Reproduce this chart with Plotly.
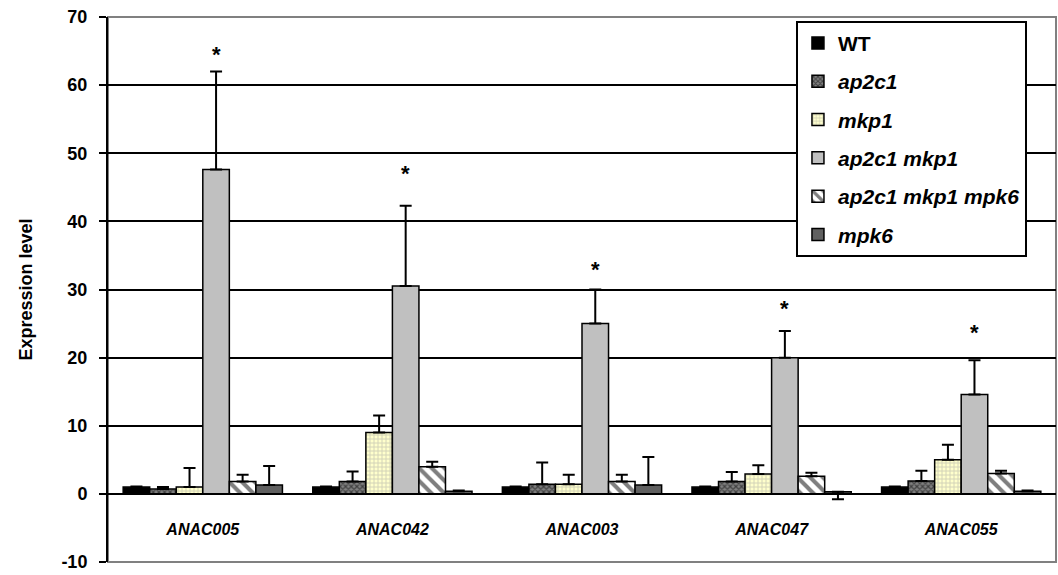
import plotly.graph_objects as go

genes = ["ANAC005", "ANAC042", "ANAC003", "ANAC047", "ANAC055"]
series = ["WT", "ap2c1", "mkp1", "ap2c1 mkp1", "ap2c1 mkp1 mpk6", "mpk6"]
y_ticks = [-10, 0, 10, 20, 30, 40, 50, 60, 70]
y_tick_text = ["-10", "0", "10", "20", "30", "40", "50", "60", "70"]

wt = [1.0, 1.0, 1.0, 1.0, 1.0]
ap2c1 = [0.7, 1.8, 1.4, 1.8, 1.9]
mkp1 = [1.0, 9.0, 1.4, 2.9, 5.0]
ap2c1_mkp1 = [47.6, 30.5, 25.0, 20.0, 14.6]
ap2c1_mkp1_mpk6 = [1.8, 4.0, 1.8, 2.6, 3.0]
mpk6 = [1.3, 0.4, 1.3, 0.3, 0.4]

err_wt = [0.1, 0.1, 0.1, 0.1, 0.1]
err_ap2c1 = [0.3, 1.5, 3.2, 1.4, 1.5]
err_mkp1 = [2.8, 2.5, 1.4, 1.3, 2.2]
err_ap2c1_mkp1 = [14.4, 11.8, 5.0, 3.9, 5.0]
err_ap2c1_mkp1_mpk6 = [1.0, 0.7, 1.0, 0.5, 0.4]
err_mpk6 = [2.8, 0.1, 4.1, 0.0, 0.1]
err_minus_mpk6 = [0.0, 0.0, 0.0, 1.1, 0.0]

star_y = [64.5, 47.0, 33.0, 27.2, 23.7]

values = [wt, ap2c1, mkp1, ap2c1_mkp1, ap2c1_mkp1_mpk6, mpk6]
errors = [err_wt, err_ap2c1, err_mkp1, err_ap2c1_mkp1, err_ap2c1_mkp1_mpk6, err_mpk6]
names = ["<b>WT</b>", "<b><i>ap2c1</i></b>", "<b><i>mkp1</i></b>", "<b><i>ap2c1 mkp1</i></b>",
         "<b><i>ap2c1 mkp1 mpk6</i></b>", "<b><i>mpk6</i></b>"]
styles = [
    dict(color="#000000"),
    dict(color="#404040", pattern=dict(shape="x", fgcolor="#000000", bgcolor="#808080", size=4, solidity=0.5)),
    dict(color="#FFFFCC", pattern=dict(shape="+", fgcolor="#A0A0A0", bgcolor="#FFFFCC", size=4, solidity=0.4)),
    dict(color="#C0C0C0"),
    dict(color="#FFFFFF", pattern=dict(shape="\\", fgcolor="#000000", bgcolor="#FFFFFF", size=9, solidity=0.45)),
    dict(color="#606060"),
]

fig = go.Figure()
x_idx = list(range(len(genes)))
for k in range(6):
    ey = dict(type="data", array=errors[k], visible=True, color="black", thickness=2, width=6,
              symmetric=False)
    ey["arrayminus"] = err_minus_mpk6 if k == 5 else [0] * len(genes)
    fig.add_trace(go.Bar(
        x=x_idx, y=values[k], name=names[k], legendgroup=series[k],
        marker=dict(**styles[k], line=dict(color="black", width=1.5)),
        error_y=ey,
    ))

bargap = 0.16
w = (1 - bargap) / 6
for i, sy in enumerate(star_y):
    fig.add_annotation(x=i - (1 - bargap) / 2 + 3.5 * w, y=sy, text="<b>*</b>", showarrow=False,
                       font=dict(size=22, color="black", family="Liberation Sans"), yanchor="middle")

fig.add_shape(type="rect", xref="x domain", yref="y domain", x0=0, x1=1, y0=0, y1=1,
              line=dict(color="#808080", width=2), layer="below")

fig.update_layout(
    width=1058, height=575,
    margin=dict(l=108, r=2, t=17, b=13),
    paper_bgcolor="white", plot_bgcolor="white",
    barmode="group", bargap=bargap, bargroupgap=0,
    font=dict(family="Liberation Sans", color="black"),
    showlegend=True,
    legend=dict(x=0.7257, y=0.993, xanchor="left", yanchor="top",
                bordercolor="black", borderwidth=2, bgcolor="white",
                font=dict(size=21, family="Liberation Sans", color="black"),
                tracegroupgap=8, itemwidth=30),
    xaxis=dict(tickmode="array", tickvals=x_idx, ticktext=["<b><i>%s</i></b>" % g for g in genes],
               range=[-0.5, 4.5], anchor="free", position=0.125, automargin=False,
               showline=True, linecolor="black", linewidth=2, ticks="", showgrid=False,
               ticklabelstandoff=21,
               tickfont=dict(size=16, family="Liberation Sans", weight="bold", style="italic"),
               zeroline=False),
    yaxis=dict(range=[-10, 70], tickmode="array", tickvals=y_ticks, ticktext=y_tick_text,
               automargin=False,
               ticks="outside", ticklen=7, tickwidth=2, tickcolor="black",
               showline=True, linecolor="black", linewidth=2,
               showgrid=True, gridcolor="black", gridwidth=2, zeroline=False,
               ticklabelstandoff=8, ticklabeloverflow="allow",
               tickfont=dict(size=18, family="Liberation Sans", weight="bold"),
               title=dict(text="<b>Expression level</b>", font=dict(size=18, family="Liberation Sans"), standoff=24)),
)

fig.write_html("out.html")
